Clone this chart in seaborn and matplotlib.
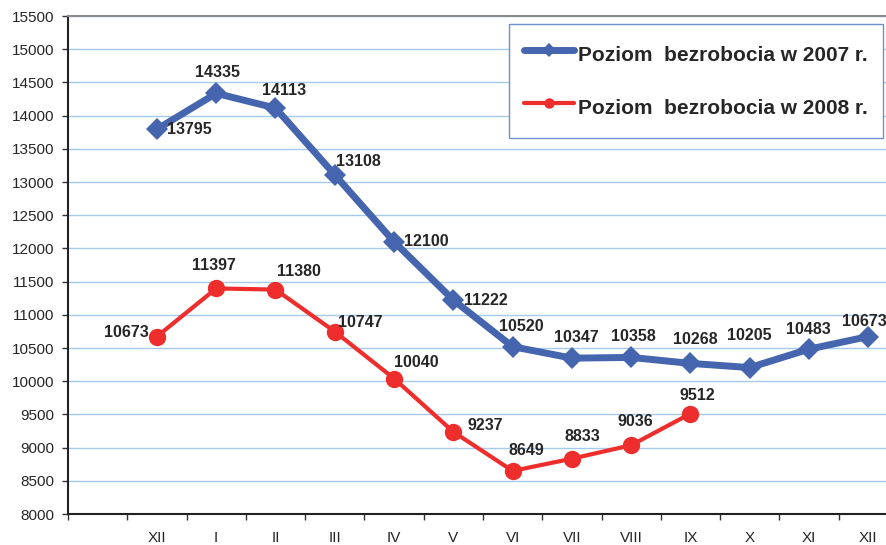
import numpy as np
import pandas as pd
import seaborn as sns
import matplotlib.pyplot as plt

# kategorie (pierwsza pusta, potem XII 2006/2007 i miesiace)
miesiace = ['', 'XII', 'I', 'II', 'III', 'IV', 'V', 'VI', 'VII', 'VIII', 'IX', 'X', 'XI', 'XII']
bezrob_2007 = [13795, 14335, 14113, 13108, 12100, 11222, 10520, 10347, 10358, 10268, 10205, 10483, 10673]
bezrob_2008 = [10673, 11397, 11380, 10747, 10040, 9237, 8649, 8833, 9036, 9512]
seria_2007 = 'Poziom  bezrobocia w 2007 r.'
seria_2008 = 'Poziom  bezrobocia w 2008 r.'

# przesuniecia etykiet (px)
off_2007 = [(32, 0), (1, 21), (9, 18), (24, 13), (32, 0), (33, 0), (9, 20), (4, 21),
            (2, 21), (5, 24), (0, 32), (-1, 20), (-4, 15)]
off_2008 = [(-31, 4), (-2, 23), (23, 18), (26, 9), (22, 16), (32, 6), (14, 20), (10, 22),
            (4, 24), (7, 18)]

df07 = pd.DataFrame({'x': np.arange(1, 1 + len(bezrob_2007)), 'y': bezrob_2007})
df08 = pd.DataFrame({'x': np.arange(1, 1 + len(bezrob_2008)), 'y': bezrob_2008})

sns.set_theme(style='white')
plt.rcParams['font.family'] = ['Liberation Sans', 'DejaVu Sans']

fig = plt.figure(figsize=(8.87, 5.45), dpi=100)
ax = fig.add_axes([68 / 887, 31 / 545, 830 / 887, 498 / 545])

niebieski = '#4565AE'
czerwony = '#EE2D2D'

sns.lineplot(data=df07, x='x', y='y', ax=ax, color=niebieski, linewidth=5, marker='D',
             markersize=11.5, markeredgewidth=0, label=seria_2007, zorder=4)
sns.lineplot(data=df08, x='x', y='y', ax=ax, color=czerwony, linewidth=3, marker='o',
             markersize=12.5, markeredgewidth=0, label=seria_2008, zorder=4)

for (x, y), (dx, dy) in zip(df07[['x', 'y']].values, off_2007):
    ax.annotate(str(y), (x, y), xytext=(dx, dy), textcoords='offset pixels',
                ha='center', va='center', fontsize=11.5, fontweight='bold', zorder=6)
for (x, y), (dx, dy) in zip(df08[['x', 'y']].values, off_2008):
    ax.annotate(str(y), (x, y), xytext=(dx, dy), textcoords='offset pixels',
                ha='center', va='center', fontsize=11.5, fontweight='bold', zorder=6)

ax.set_xlim(-0.5, 13.5)
ax.set_ylim(8000, 15500)
ax.set_yticks(np.arange(8000, 15501, 500))
ax.set_xticks(np.arange(len(miesiace)))
ax.set_xticklabels(miesiace)
ax.set_xticks(np.arange(-0.5, 13.6, 1), minor=True)
ax.tick_params(axis='x', which='major', length=0, pad=12, labelsize=11)
ax.tick_params(axis='x', which='minor', length=4, width=1, color='#333333', direction='out', bottom=True)
ax.tick_params(axis='y', length=4, width=1, color='#333333', direction='out', left=True, pad=6, labelsize=11)
ax.set_xlabel('')
ax.set_ylabel('')

ax.yaxis.grid(True, color='#A6CAEC', linewidth=1)
ax.set_axisbelow(True)
for s in ['left', 'bottom']:
    ax.spines[s].set_color('#222222')
    ax.spines[s].set_linewidth(1.5)
ax.spines['top'].set_color('#8A8A8A')
ax.spines['top'].set_linewidth(1.5)
ax.spines['right'].set_visible(False)

leg = ax.legend(loc='upper left', bbox_to_anchor=(0.531, 0.984), prop={'weight': 'bold', 'size': 15},
                labelspacing=1.04, handlelength=2.4, handleheight=1.9, handletextpad=0.2,
                borderpad=0.74, borderaxespad=0, fancybox=False, framealpha=1,
                edgecolor='#7090CC', markerscale=0.6)
leg.get_frame().set_linewidth(1)

fig.savefig('out.png', dpi=100)
